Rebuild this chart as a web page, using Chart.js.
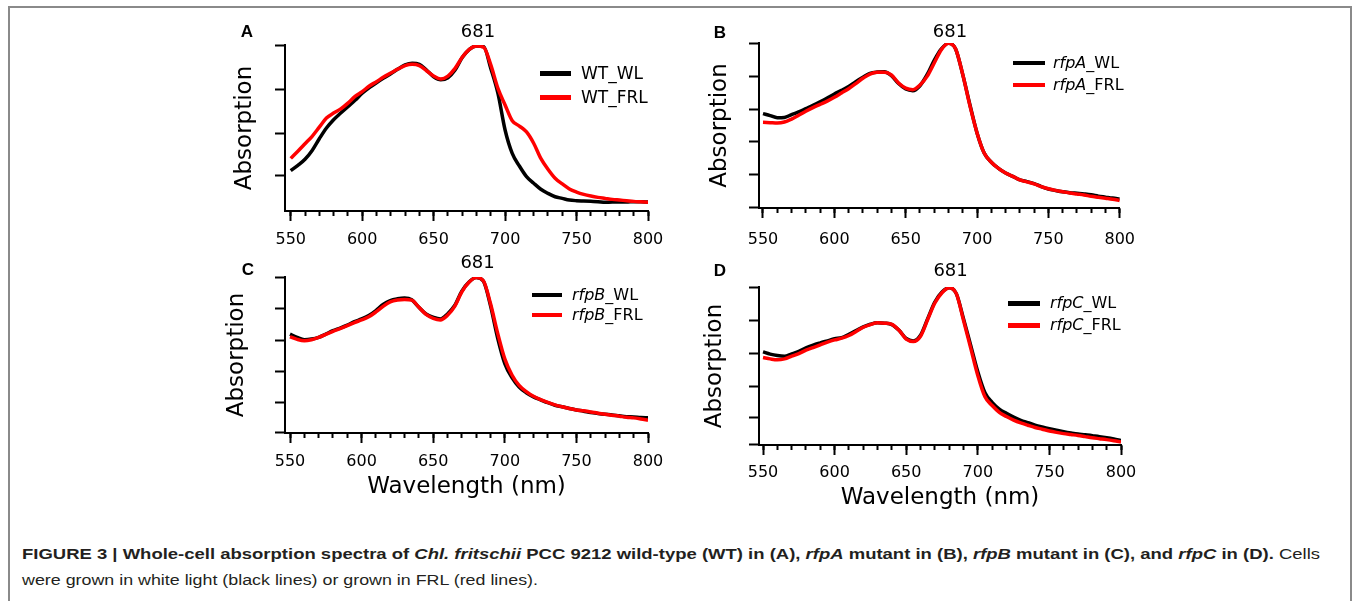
<!DOCTYPE html>
<html>
<head>
<meta charset="utf-8">
<script src="https://cdn.jsdelivr.net/npm/chart.js@4.4.1/dist/chart.umd.min.js"></script>
<style>
  body { margin: 0; background: #fff; }
  #page { position: relative; width: 1357px; height: 601px; overflow: hidden; font-family: "DejaVu Sans", sans-serif; }
  #frame { position: absolute; left: 8px; top: 6px; width: 1344px; height: 700px; border: 2px solid #8a8a8a; box-sizing: border-box; }
  canvas { position: absolute; }
  .tag { position: absolute; font: bold 17px "Liberation Sans", Arial, sans-serif; transform: translate(-50%, -50%); }
  .legend-row { position: absolute; height: 20px; line-height: 20px; white-space: nowrap; color: #000; }
  .legend-row .swatch { position: absolute; left: 0; }
  .legend-row .txt { position: absolute; top: 0; }
  .caption { position: absolute; left: 22px; white-space: nowrap; font: 15.5px "Liberation Sans", Arial, sans-serif; line-height: 18px; color: #231f20; transform-origin: 0 50%; }
</style>
</head>
<body>
<div id="page">
  <div id="frame"></div>
  <canvas id="chart-A"></canvas>
  <canvas id="chart-B"></canvas>
  <canvas id="chart-C"></canvas>
  <canvas id="chart-D"></canvas>
  <div class="caption" data-w="1298" style="top:545px"><b>FIGURE 3 | Whole-cell absorption spectra of <i>Chl. fritschii</i> PCC 9212 wild-type (WT) in (A), <i>rfpA</i> mutant in (B), <i>rfpB</i> mutant in (C), and <i>rfpC</i> in (D).</b> Cells</div>
  <div class="caption" data-w="516" style="top:571px">were grown in white light (black lines) or grown in FRL (red lines).</div>
</div>
<script>
// wavelength grid (nm)
const wavelengths = [550, 555, 560, 565, 570, 575, 580, 585, 590, 595, 600,
  605, 610, 615, 620, 625, 630, 635, 640, 645, 650,
  655, 660, 665, 670, 675, 680, 685, 690, 695, 700,
  705, 710, 715, 720, 725, 730, 735, 740, 745, 750,
  755, 760, 765, 770, 775, 780, 785, 790, 795, 800];

// relative absorption (0 = x axis, 1 = top of plot)
const wtWL = [0.243, 0.275, 0.312, 0.365, 0.435, 0.500, 0.550, 0.590, 0.629, 0.667, 0.709,
  0.743, 0.773, 0.801, 0.827, 0.855, 0.880, 0.890, 0.884, 0.849, 0.809,
  0.791, 0.803, 0.849, 0.924, 0.974, 0.994, 0.990, 0.859, 0.709, 0.488,
  0.347, 0.271, 0.207, 0.167, 0.131, 0.106, 0.086, 0.076, 0.066, 0.062,
  0.060, 0.058, 0.056, 0.052, 0.054, 0.054, 0.054, 0.056, 0.056, 0.054];
const wtFRL = [0.317, 0.360, 0.405, 0.450, 0.505, 0.560, 0.590, 0.615, 0.650, 0.690, 0.719,
  0.753, 0.779, 0.807, 0.831, 0.855, 0.876, 0.884, 0.876, 0.845, 0.813,
  0.795, 0.813, 0.859, 0.926, 0.974, 0.994, 0.986, 0.880, 0.739, 0.639,
  0.544, 0.512, 0.476, 0.408, 0.317, 0.251, 0.197, 0.163, 0.133, 0.114,
  0.100, 0.090, 0.082, 0.076, 0.070, 0.066, 0.062, 0.058, 0.055, 0.052];

const rfpaWL = [0.572, 0.560, 0.547, 0.549, 0.566, 0.582, 0.602, 0.622, 0.644, 0.667, 0.691,
  0.713, 0.737, 0.766, 0.792, 0.816, 0.824, 0.826, 0.802, 0.754, 0.721,
  0.711, 0.741, 0.808, 0.895, 0.964, 0.998, 0.964, 0.808, 0.626, 0.455,
  0.333, 0.277, 0.240, 0.212, 0.192, 0.170, 0.160, 0.148, 0.130, 0.115,
  0.106, 0.098, 0.093, 0.089, 0.085, 0.080, 0.072, 0.066, 0.060, 0.055];
const rfpaFRL = [0.519, 0.517, 0.515, 0.521, 0.539, 0.562, 0.586, 0.608, 0.628, 0.648, 0.671,
  0.697, 0.723, 0.754, 0.786, 0.812, 0.822, 0.822, 0.806, 0.758, 0.727,
  0.717, 0.745, 0.798, 0.879, 0.960, 0.998, 0.964, 0.808, 0.620, 0.455,
  0.333, 0.277, 0.240, 0.212, 0.192, 0.170, 0.158, 0.146, 0.130, 0.117,
  0.107, 0.099, 0.091, 0.085, 0.079, 0.071, 0.065, 0.059, 0.053, 0.046];

const rfpbWL = [0.634, 0.613, 0.598, 0.602, 0.613, 0.634, 0.656, 0.673, 0.692, 0.714, 0.731,
  0.753, 0.785, 0.824, 0.849, 0.860, 0.865, 0.854, 0.806, 0.763, 0.742,
  0.731, 0.763, 0.817, 0.910, 0.968, 0.996, 0.974, 0.817, 0.609, 0.445,
  0.355, 0.295, 0.258, 0.232, 0.213, 0.194, 0.178, 0.168, 0.157, 0.148,
  0.140, 0.131, 0.125, 0.120, 0.116, 0.110, 0.105, 0.103, 0.099, 0.097];
const rfpbFRL = [0.617, 0.600, 0.591, 0.598, 0.613, 0.632, 0.652, 0.669, 0.688, 0.708, 0.725,
  0.745, 0.776, 0.812, 0.840, 0.852, 0.856, 0.852, 0.806, 0.760, 0.735,
  0.725, 0.755, 0.812, 0.905, 0.966, 0.996, 0.976, 0.830, 0.640, 0.475,
  0.372, 0.305, 0.265, 0.235, 0.214, 0.196, 0.180, 0.168, 0.157, 0.148,
  0.142, 0.135, 0.127, 0.120, 0.114, 0.108, 0.101, 0.097, 0.090, 0.082];

const rfpcWL = [0.589, 0.575, 0.566, 0.562, 0.577, 0.592, 0.615, 0.632, 0.646, 0.659, 0.672,
  0.680, 0.701, 0.724, 0.747, 0.764, 0.773, 0.771, 0.762, 0.726, 0.674,
  0.659, 0.695, 0.800, 0.905, 0.968, 0.996, 0.958, 0.800, 0.632, 0.463,
  0.330, 0.270, 0.227, 0.200, 0.176, 0.156, 0.141, 0.126, 0.114, 0.103,
  0.093, 0.084, 0.076, 0.069, 0.065, 0.059, 0.053, 0.046, 0.038, 0.029];
const rfpcFRL = [0.554, 0.545, 0.539, 0.545, 0.562, 0.579, 0.600, 0.617, 0.634, 0.651, 0.665,
  0.676, 0.693, 0.718, 0.745, 0.762, 0.773, 0.771, 0.764, 0.726, 0.670,
  0.655, 0.688, 0.794, 0.899, 0.964, 0.996, 0.958, 0.790, 0.615, 0.440,
  0.305, 0.250, 0.207, 0.180, 0.158, 0.140, 0.125, 0.111, 0.100, 0.089,
  0.080, 0.072, 0.066, 0.060, 0.053, 0.046, 0.040, 0.034, 0.027, 0.019];

// tick marks
const xMajorTicks = [550, 600, 650, 700, 750, 800];
const xMinorTicks = [550, 560, 570, 580, 590, 600, 610, 620, 630, 640, 650, 660, 670, 680, 690,
  700, 710, 720, 730, 740, 750, 760, 770, 780, 790, 800];
const yTicksA = [0.994, 0.733, 0.468, 0.213];
const yTicksB = [0.994, 0.798, 0.600, 0.404, 0.206, 0.004];
const yTicksC = [0.996, 0.796, 0.596, 0.396, 0.196, 0.004];
const yTicksD = [1.0, 0.789, 0.579, 0.373, 0.173, 0.004];
const peakWavelength = 681;

// panel layout (page pixels of the plot box)
const panels = [
  { tag: "A", strain: "WT", italic: false, wl: wtWL, frl: wtFRL, yTicks: yTicksA,
    box: { l: 285, t: 45, r: 648, b: 211 }, xMin: 546, titleX: 245, tickPad: 9.5, peakDy: -13,
    xTitle: false, tagPos: [247, 32],
    legend: { x: 540, y: 73, gap: 24, len: 31, textX: 581, size: 17, thick: 5 } },
  { tag: "B", strain: "rfpA", italic: true, wl: rfpaWL, frl: rfpaFRL, yTicks: yTicksB,
    box: { l: 759, t: 43, r: 1122, b: 208 }, xMin: 547.2, titleX: 720, tickPad: 12, peakDy: -11,
    xTitle: false, tagPos: [720, 33],
    legend: { x: 1013, y: 63, gap: 22, len: 32, textX: 1053, size: 16, thick: 4 } },
  { tag: "C", strain: "rfpB", italic: true, wl: rfpbWL, frl: rfpbFRL, yTicks: yTicksC,
    box: { l: 285, t: 277, r: 648, b: 433 }, xMin: 546.5, titleX: 237, tickPad: 9.5, peakDy: -14,
    xTitle: true, xTitleY: 487.5, tagPos: [248, 270],
    legend: { x: 532, y: 295, gap: 20, len: 30, textX: 572, size: 16, thick: 4 } },
  { tag: "D", strain: "rfpC", italic: true, wl: rfpcWL, frl: rfpcFRL, yTicks: yTicksD,
    box: { l: 759, t: 287, r: 1121, b: 445 }, xMin: 547.2, titleX: 715, tickPad: 8.5, peakDy: -16,
    xTitle: true, xTitleY: 498, tagPos: [720, 271],
    legend: { x: 1008, y: 303, gap: 22, len: 32, textX: 1050, size: 16, thick: 5 } }
];

const page = document.getElementById("page");

// "681" over the red-band peak
const peakPlugin = {
  id: "peakLabel",
  afterDraw(chart, args, opts) {
    const ctx = chart.ctx;
    const x = chart.scales.x.getPixelForValue(opts.value);
    ctx.save();
    ctx.font = '18px "DejaVu Sans"';
    ctx.fillStyle = "#000";
    ctx.textAlign = "center";
    ctx.textBaseline = "middle";
    ctx.fillText(String(opts.value), x, chart.chartArea.top + opts.dy);
    ctx.restore();
  }
};

// legend as html so the strain name can be italic
const htmlLegend = {
  id: "htmlLegend",
  afterUpdate(chart, args, opts) {
    chart.data.datasets.forEach((ds, i) => {
      const row = document.createElement("div");
      row.className = "legend-row";
      row.style.left = opts.x + "px";
      row.style.top = (opts.y + i * opts.gap - 10) + "px";
      row.style.fontSize = opts.size + "px";
      const sw = document.createElement("span");
      sw.className = "swatch";
      sw.style.width = opts.len + "px";
      sw.style.height = opts.thick + "px";
      sw.style.top = (10 - opts.thick / 2) + "px";
      sw.style.background = ds.borderColor;
      const txt = document.createElement("span");
      txt.className = "txt";
      txt.style.left = (opts.textX - opts.x) + "px";
      const parts = ds.label.split("_");
      txt.innerHTML = (opts.italic ? "<i>" + parts[0] + "</i>" : parts[0]) + "_" + parts[1];
      row.appendChild(sw);
      row.appendChild(txt);
      page.appendChild(row);
    });
  }
};

panels.forEach((p) => {
  const xH = p.xTitle ? 75 : 45;
  const yW = 65, padTop = 35, padRight = 25;
  const cv = document.getElementById("chart-" + p.tag);
  const w = p.box.r - p.box.l + yW + padRight;
  const h = p.box.b - p.box.t + padTop + xH;
  cv.width = w; cv.height = h;
  cv.style.left = (p.box.l - yW) + "px";
  cv.style.top = (p.box.t - padTop) + "px";
  cv.style.width = w + "px";
  cv.style.height = h + "px";

  const tag = document.createElement("div");
  tag.className = "tag";
  tag.textContent = p.tag;
  tag.style.left = p.tagPos[0] + "px";
  tag.style.top = p.tagPos[1] + "px";
  page.appendChild(tag);

  const tickFont = { family: "DejaVu Sans", size: 16 };
  const titleFont = { family: "DejaVu Sans", size: 23 };

  new Chart(cv, {
    type: "line",
    data: {
      datasets: [
        { label: p.strain + "_WL", data: p.wl.map((v, i) => ({ x: wavelengths[i], y: v })),
          borderColor: "#000000", borderWidth: 3.5, pointRadius: 0, order: 2,
          cubicInterpolationMode: "monotone" },
        { label: p.strain + "_FRL", data: p.frl.map((v, i) => ({ x: wavelengths[i], y: v })),
          borderColor: "#ff0000", borderWidth: 3.5, pointRadius: 0, order: 1,
          cubicInterpolationMode: "monotone" }
      ]
    },
    options: {
      responsive: false,
      animation: false,
      devicePixelRatio: 1,
      layout: { padding: { top: padTop, right: padRight, left: 0, bottom: 0 } },
      scales: {
        x: {
          type: "linear", position: "bottom", min: p.xMin, max: 800, weight: 0,
          afterBuildTicks: (s) => { s.ticks = xMinorTicks.map((v) => ({ value: v })); },
          afterFit: (s) => { s.height = 0; },
          ticks: { display: false },
          grid: { drawOnChartArea: false, drawTicks: true, tickLength: 5, tickWidth: 2, tickColor: "#000" },
          border: { display: true, width: 2, color: "#000" }
        },
        x2: {
          type: "linear", position: "bottom", axis: "x", min: p.xMin, max: 800, weight: 1,
          afterBuildTicks: (s) => { s.ticks = xMajorTicks.map((v) => ({ value: v })); },
          afterFit: (s) => { s.height = xH; },
          ticks: { color: "#000", font: tickFont, padding: p.tickPad, maxRotation: 0, autoSkip: false },
          grid: { drawOnChartArea: false, drawTicks: true, tickLength: 10, tickWidth: 2, tickColor: "#000" },
          border: { display: false },
          title: {
            display: p.xTitle, text: "Wavelength (nm)", color: "#000", font: titleFont,
            padding: { top: 0, bottom: p.xTitle ? (p.box.b + xH - 13.8 - p.xTitleY) : 0 }
          }
        },
        y: {
          min: 0, max: 1,
          afterBuildTicks: (s) => { s.ticks = p.yTicks.map((v) => ({ value: v })); },
          afterFit: (s) => { s.width = yW; },
          ticks: { display: false },
          grid: { drawOnChartArea: false, drawTicks: true, tickLength: 10, tickWidth: 2, tickColor: "#000" },
          border: { display: true, width: 2, color: "#000" },
          title: {
            display: true, text: "Absorption", color: "#000", font: titleFont,
            padding: { top: p.titleX - (p.box.l - yW) - 13.8, bottom: 0 }
          }
        }
      },
      plugins: {
        legend: { display: false },
        tooltip: { enabled: false },
        peakLabel: { value: peakWavelength, dy: p.peakDy },
        htmlLegend: Object.assign({ italic: p.italic }, p.legend)
      }
    },
    plugins: [peakPlugin, htmlLegend]
  });
});

// stretch the caption lines to the width they have in the figure
document.querySelectorAll(".caption").forEach((el) => {
  const w = el.getBoundingClientRect().width;
  el.style.transform = "scaleX(" + (Number(el.dataset.w) / w) + ")";
});
</script>
</body>
</html>
